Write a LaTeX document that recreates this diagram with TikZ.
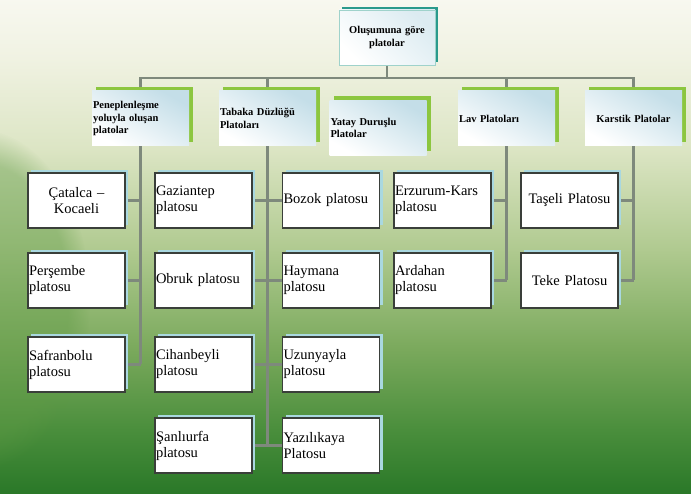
\documentclass[tikz,border=0pt]{standalone}
\usepackage{fontspec}
\setmainfont{Liberation Serif}
\usetikzlibrary{shadows,fadings}
\definecolor{conn}{HTML}{7E897C}
\definecolor{leafborder}{HTML}{3A3F3A}
\definecolor{leafshadow}{HTML}{A9D8E0}
\definecolor{lvlgreen}{HTML}{8CC63F}
\definecolor{lvlblue}{HTML}{C4DEE8}
\definecolor{topteal}{HTML}{2A9A8C}
\definecolor{bgA}{HTML}{F8F8F0}
\definecolor{bgB}{HTML}{F0F2E2}
\definecolor{bgC}{HTML}{DCE5C4}
\definecolor{bgD}{HTML}{B0CA90}
\definecolor{bgE}{HTML}{7AA95C}
\definecolor{bgF}{HTML}{4A8E3C}
\definecolor{bgG}{HTML}{2A7828}
\definecolor{bgLeft}{HTML}{5E9A44}
\pgfdeclareverticalshading{bgshade}{700bp}{color(0bp)=(bgG); color(64bp)=(bgF); color(144bp)=(bgE); color(244bp)=(bgD); color(344bp)=(bgC); color(434bp)=(bgB); color(494bp)=(bgA)}
\pgfdeclarelayer{bg}
\pgfdeclarelayer{lines}
\pgfsetlayers{bg,lines,main}
\tikzset{
  leaf/.style={draw=leafborder, line width=1.1pt, fill=white,
    minimum width=97pt, minimum height=55pt, text width=95pt, inner sep=1pt,
    font=\fontsize{14.5}{16}\selectfont, align=left,
    general shadow={shadow xshift=3pt, shadow yshift=3pt, fill=leafshadow}},
  leafc/.style={leaf, align=center},
  lvl/.style={minimum width=97pt, minimum height=55pt, text width=95pt, inner sep=1pt,
    font=\bfseries\fontsize{10.5}{12.5}\selectfont, align=left,
    top color=white, bottom color=lvlblue, shading angle=150,
    general shadow={shadow xshift=4pt, shadow yshift=4pt, fill=lvlgreen}},
  lvlc/.style={lvl, align=center},
  topbox/.style={minimum width=96pt, minimum height=55pt, text width=94pt, inner sep=1pt,
    font=\bfseries\fontsize{10.5}{12.5}\selectfont, align=center,
    draw=topteal!45, line width=0.6pt,
    top color=white, bottom color=lvlblue!60, shading angle=135,
    general shadow={shadow xshift=3pt, shadow yshift=3pt, fill=topteal}},
  conline/.style={draw=conn, line width=2.4pt}
}
\begin{document}
\begin{tikzpicture}[x=1pt,y=-1pt]
\useasboundingbox (0,0) rectangle (691,494);
\begin{pgfonlayer}{bg}
  \node[inner sep=0pt, outer sep=0pt, anchor=south west] (bgnode) at (0,494) {\pgfuseshading{bgshade}};
  \begin{scope}
    \clip (0,0) rectangle (691,494);
    \fill[bgLeft, fill opacity=0.4, path fading=circle with fuzzy edge 20 percent]
      (-20,300) ellipse (110pt and 170pt);
  \end{scope}
\end{pgfonlayer}

% top
\node[topbox] (top) at (387,37.5) {Oluşumuna göre\\platolar};
% level 2
\node[lvl]  (L1) at (140.5,118.5) {Peneplenleşme\\yoluyla oluşan\\platolar};
\node[lvl]  (L2) at (267.5,118.5) {Tabaka Düzlüğü\\Platoları};
\node[lvl]  (L3) at (378,128)     {Yatay Duruşlu\\Platolar};
\node[lvl]  (L4) at (506.5,118.5) {Lav Platoları};
\node[lvlc] (L5) at (633.5,118.5) {Karstik Platolar};
% leaves
\node[leafc] (A1) at (76.5,200.5) {Çatalca –\\Kocaeli};
\node[leaf]  (A2) at (76.5,280.5) {Perşembe\\platosu};
\node[leaf]  (A3) at (76.5,364.5) {Safranbolu\\platosu};
\node[leaf]  (B1) at (203.5,200.5) {Gaziantep\\platosu};
\node[leaf]  (B2) at (203.5,280.5) {Obruk platosu};
\node[leaf]  (B3) at (203.5,364.5) {Cihanbeyli\\platosu};
\node[leaf]  (B4) at (203.5,445.5) {Şanlıurfa\\platosu};
\node[leaf]  (C1) at (331,200.5) {Bozok platosu};
\node[leaf]  (C2) at (331,280.5) {Haymana\\platosu};
\node[leaf]  (C3) at (331,364.5) {Uzunyayla\\platosu};
\node[leaf]  (C4) at (331,445.5) {Yazılıkaya\\Platosu};
\node[leaf]  (D1) at (442.5,200.5) {Erzurum-Kars\\platosu};
\node[leaf]  (D2) at (442.5,280.5) {Ardahan\\platosu};
\node[leafc] (E1) at (569.5,200.5) {Taşeli Platosu};
\node[leafc] (E2) at (569.5,280.5) {Teke Platosu};

\coordinate (bus) at (387,78);
\begin{pgfonlayer}{lines}
  \draw[conline] (top.south) -- (bus);
  \draw[conline] (L1.north) -- (L1.north |- bus) -- (L5.north |- bus) -- (L5.north);
  \draw[conline] (L2.north) -- (L2.north |- bus);
  \draw[conline] (L4.north) -- (L4.north |- bus);
  % L1 children
  \draw[conline] (L1.south) -- (L1.south |- A3.east);
  \foreach \n in {A1,A2,A3} \draw[conline] (\n.east) -- (\n.east -| L1.south);
  % L2 children
  \draw[conline] (L2.south) -- (L2.south |- B4.east);
  \foreach \i in {1,2,3,4} \draw[conline] (B\i.east) -- (C\i.west);
  % L4 children
  \draw[conline] (L4.south) -- (L4.south |- D2.east);
  \foreach \n in {D1,D2} \draw[conline] (\n.east) -- (\n.east -| L4.south);
  % L5 children
  \draw[conline] (L5.south) -- (L5.south |- E2.east);
  \foreach \n in {E1,E2} \draw[conline] (\n.east) -- (\n.east -| L5.south);
\end{pgfonlayer}
\end{tikzpicture}
\end{document}
